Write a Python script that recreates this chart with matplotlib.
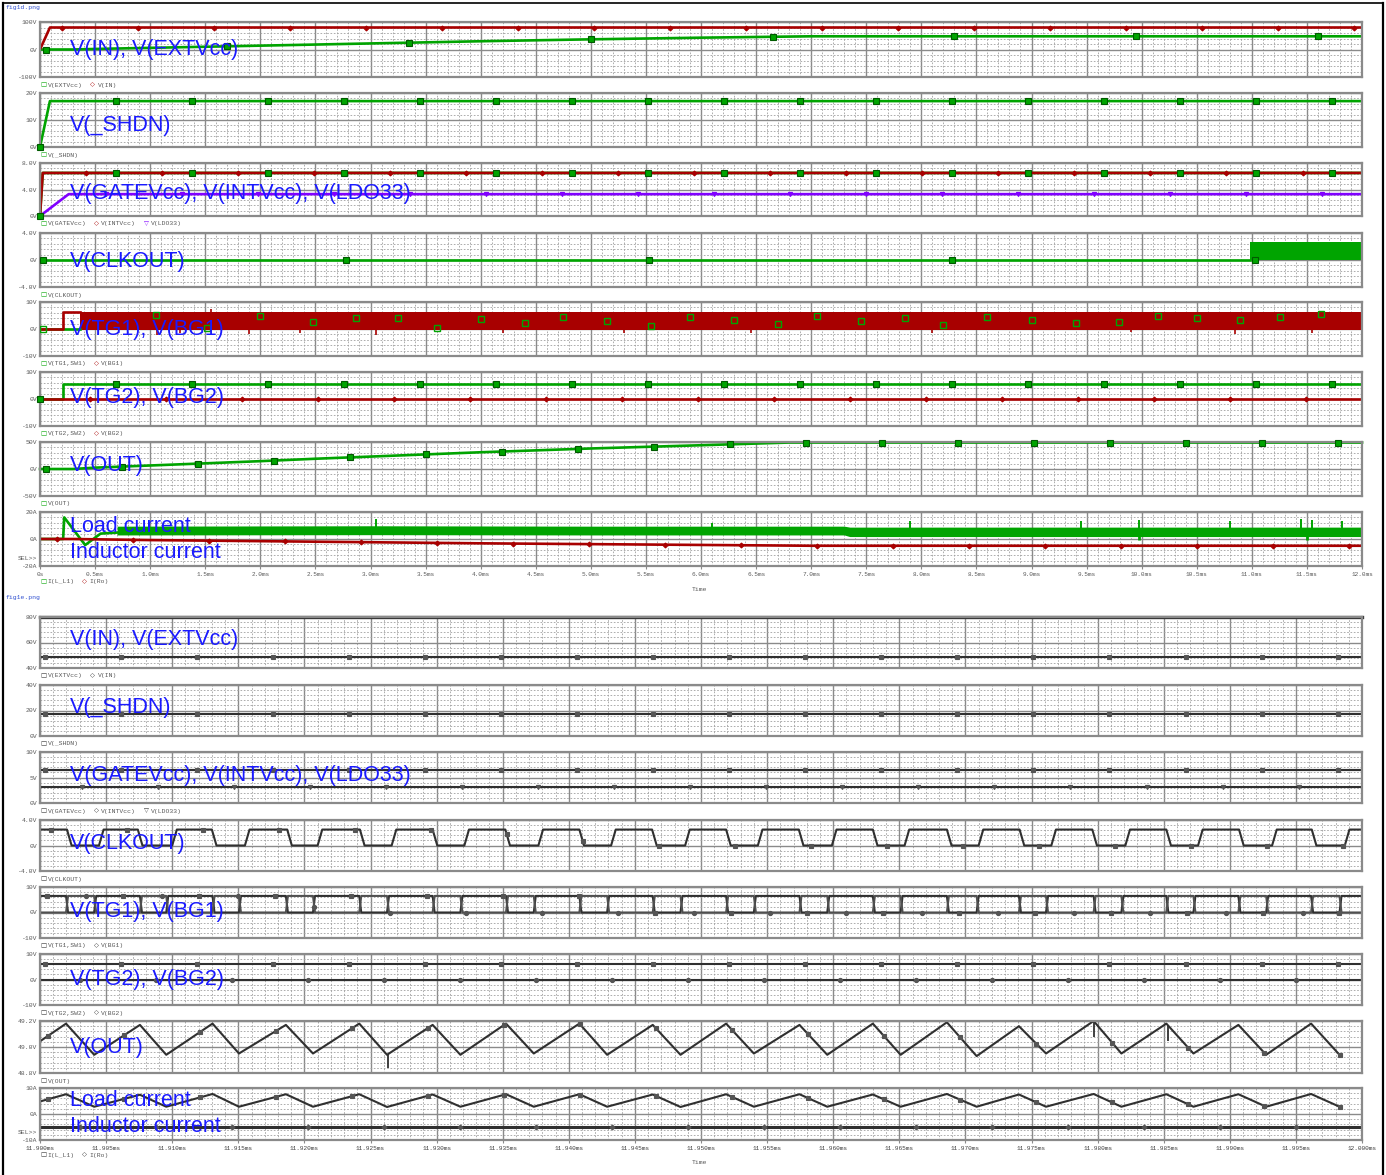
import numpy as np
import matplotlib
matplotlib.use("Agg")
import matplotlib.pyplot as plt
from matplotlib.lines import Line2D

plt.rcParams["font.family"] = ["Liberation Mono", "DejaVu Sans"]

W, H = 1386, 1175
LEFT, RIGHT = 40, 1362

GREEN = "#00a400"
GREEN_EDGE = "#005a00"
RED = "#a80000"
VIOLET = "#8000ff"
INK = "#303030"
BLUE = "#1a1aff"
TXT = "#5a5a5a"

# ---------------- fig1d: start-up, 0 .. 12 ms ----------------
top_xlabels = ["0s", "0.5ms", "1.0ms", "1.5ms", "2.0ms", "2.5ms", "3.0ms", "3.5ms",
               "4.0ms", "4.5ms", "5.0ms", "5.5ms", "6.0ms", "6.5ms", "7.0ms", "7.5ms",
               "8.0ms", "8.5ms", "9.0ms", "9.5ms", "10.0ms", "10.5ms", "11.0ms",
               "11.5ms", "12.0ms"]

vin_t = [0, 0.09, 12.0]
vin_v = [0, 80, 80]
vext_t = [0, 0.3, 0.5, 1.0, 1.5, 2.0, 2.5, 3.0, 3.5, 4.0, 5.0, 6.0, 7.0, 12.0]
vext_v = [0, 0, 2, 6, 10, 14, 18, 22, 26, 30, 37, 43, 48, 48]
shdn_t = [0, 0.09, 12.0]
shdn_v = [0, 17, 17]
gatevcc_t = [0, 0.025, 12.0]
gatevcc_v = [0, 6.5, 6.5]
intvcc_t = [0, 0.025, 12.0]
intvcc_v = [0, 6.5, 6.5]
ldo33_t = [0, 0.26, 12.0]
ldo33_v = [0, 3.3, 3.3]
clk_line_t = [0, 10.98]
clk_line_v = [0, 0]
clk_band_t = [10.98, 12.0]
clk_band_lo = [0, 0]
clk_band_hi = [2.7, 2.7]
bg1_start_t = [0, 0.21, 0.21, 0.36]
bg1_start_v = [0, 0, 6.3, 6.3]
bg1_band_t = [0.36, 12.0]
bg1_band_lo = [-0.5, -0.5]
bg1_band_hi = [6.3, 6.3]
bg1_spike_t = [1.06, 1.27, 1.55, 1.9, 2.36, 3.05, 4.2, 5.3, 6.45, 8.1, 9.9, 10.85, 11.55]
bg1_spike_v = [-2.2, -1.5, 7.5, -1.8, -1.6, -2.4, -1.5, -1.4, -1.6, -1.5, -1.2, -1.8, -1.6]
tg1_mark_t = [0.03, 1.05, 1.52, 2.0, 2.48, 2.87, 3.25, 3.6, 4.0, 4.4, 4.75, 5.15, 5.55,
              5.9, 6.3, 6.7, 7.05, 7.45, 7.85, 8.2, 8.6, 9.0, 9.4, 9.79, 10.15, 10.5,
              10.89, 11.26, 11.63]
tg1_mark_v = [0.0, 5.2, 0.4, 4.8, 2.7, 4.2, 4.0, 0.5, 3.6, 2.4, 4.6, 3.1, 1.2,
              4.4, 3.4, 2.0, 4.8, 3.0, 3.9, 1.6, 4.3, 3.5, 2.2, 2.5, 4.9, 4.0,
              3.3, 4.3, 5.7]
tg2_t = [0, 0.21, 0.21, 12.0]
tg2_v = [0, 0, 5.5, 5.5]
bg2_t = [0, 12.0]
bg2_v = [0, 0]
vout_t = [0, 0.3, 0.5, 1.0, 1.5, 2.0, 2.5, 3.0, 3.5, 4.0, 5.0, 6.0, 6.8, 12.0]
vout_v = [0, 0, 2.5, 6.5, 10.5, 14.5, 19, 23, 27, 31, 38, 44, 49, 49]
il_start_t = [0, 0.21, 0.22, 0.41, 0.55, 0.75]
il_start_v = [0, 0, 16, -4.5, 4, 5]
il_band_t = [0.7, 3.0, 5.0, 7.3, 7.35, 12.0]
il_band_hi = [9.5, 9.8, 9.5, 9.5, 8.8, 8.8]
il_band_lo = [3.0, 3.2, 3.0, 3.0, 1.8, 1.8]
il_spike_t = [3.05, 6.1, 7.9, 9.45, 9.98, 10.8, 11.45, 11.55, 11.82]
il_spike_v = [15, 12, 13, 13, 14, 13, 15, 14, 13]
il_dip_t = [9.98, 11.5]
il_dip_v = [-1.0, -1.0]
iro_t = [0, 0.3, 1, 2, 3, 4, 5, 6, 7, 12]
iro_v = [0, 0, -0.8, -1.6, -2.4, -3.2, -3.8, -4.4, -5, -5]

# ---------------- fig1e: steady state, 11.900 .. 12.000 ms (times in us after 11.900ms) ----
bot_xlabels = ["11.900ms", "11.905ms", "11.910ms", "11.915ms", "11.920ms", "11.925ms",
               "11.930ms", "11.935ms", "11.940ms", "11.945ms", "11.950ms", "11.955ms",
               "11.960ms", "11.965ms", "11.970ms", "11.975ms", "11.980ms", "11.985ms",
               "11.990ms", "11.995ms", "12.000ms"]

peak_us = [1.97, 7.56, 13.05, 18.6, 24.15, 29.7, 35.25, 40.8, 46.35, 51.9, 57.45, 63.0,
           68.6, 74.05, 79.7, 85.2, 90.65, 96.15]
valley_us = [-1.5, 4.1, 9.55, 15.05, 20.65, 26.25, 31.8, 37.35, 42.9, 48.45, 54.0, 59.55,
             65.1, 70.85, 76.1, 81.8, 87.25, 92.75, 98.3]
vout_peak = [49.18, 49.17, 49.18, 49.17, 49.18, 49.17, 49.18, 49.18, 49.17, 49.18, 49.17,
             49.18, 49.19, 49.16, 49.20, 49.18, 49.17, 49.18]
vout_valley = [48.94, 48.94, 48.94, 48.95, 48.95, 48.94, 48.94, 48.95, 48.94, 48.94, 48.95,
               48.94, 48.94, 48.93, 48.95, 48.95, 48.95, 48.94, 48.94]
il_peak = [7.6, 7.4, 7.7, 7.6, 7.6, 7.5, 7.6, 7.6, 7.5, 7.6, 7.6, 7.5, 7.7, 7.5, 7.7, 7.6,
           7.6, 7.7]
il_valley = [2.7, 2.8, 2.8, 2.8, 2.8, 2.7, 2.8, 2.8, 2.8, 2.7, 2.8, 2.8, 2.8, 2.8, 2.8, 2.8,
             2.8, 2.8, 2.8]
vout_spike_us = [26.3, 79.7, 85.3]
vout_spike_v = [48.84, 49.08, 49.05]
clk_rise_us = [-1.0, 4.46, 10.0, 15.5, 21.0, 26.6, 32.1, 37.7, 43.2, 48.8, 54.3, 59.9, 65.4,
               71.0, 76.5, 82.1, 87.6, 93.2, 98.7]
clk_fall_us = [2.04, 7.4, 13.0, 18.7, 24.2, 29.7, 35.2, 40.8, 46.3, 51.9, 57.4, 63.0, 68.6,
               74.1, 79.6, 85.2, 90.7, 96.2]
clk_hi = 2.5
gate1_hi = 6.5
vin_ss = 80
vext_ss = 49.0
shdn_ss = 17.2
gatevcc_ss = 6.5
intvcc_ss = 6.5
ldo33_ss = 3.2
tg2_ss = 6.2
bg2_ss = 0.0
iro_ss = -5.0

fig = plt.figure(figsize=(W / 100, H / 100), dpi=100)
fig.patch.set_facecolor("white")


def px(x, y):
    return x / W, 1 - y / H


def panel(top, bottom, ylim, ylabels, xlim, xmajor, xminor):
    ax = fig.add_axes([LEFT / W, 1 - bottom / H, (RIGHT - LEFT) / W, (bottom - top) / H])
    ax.set_xlim(*xlim)
    ax.set_ylim(*ylim)
    lo, hi = ylim
    ax.set_yticks([lo, (lo + hi) / 2, hi], ylabels)
    ax.set_yticks(np.linspace(lo, hi, 11), minor=True)
    ax.set_xticks(xmajor)
    ax.set_xticks(xminor, minor=True)
    ax.tick_params(which="both", length=0, labelsize=4.6, labelcolor=TXT, pad=2)
    ax.tick_params(axis="x", labelbottom=False)
    ax.grid(which="major", color="#8a8a8a", lw=1.0, ls="-")
    ax.grid(which="minor", color="#a0a0a0", lw=0.6, ls=(0, (2, 2)))
    for s in ax.spines.values():
        s.set_color("#8a8a8a")
        s.set_linewidth(1.6)
    ax.set_axisbelow(True)
    return ax


def legend(x, y, entries, sym_color_default=None):
    cw = 0.6 * 4.6 * 100 / 72
    for sym, color, name in entries:
        fig.text(*px(x, y), sym, color=color, fontsize=4.6, va="center", ha="left",
                 family=["DejaVu Sans"])
        x += 2 * cw
        fig.text(*px(x, y), name, color=TXT, fontsize=4.6, va="center", ha="left")
        x += (len(name) + 2) * cw


def marks(ax, t, v, start, step, marker, color, size=4.0, filled=True, edge=None):
    hi = ax.get_xlim()[1]
    mt = np.arange(start, hi, step)
    mv = np.interp(mt, t, v)
    ax.plot(mt, mv, ls="none", marker=marker, ms=size,
            mfc=color if filled else "none", mec=edge or color, mew=0.8, zorder=6,
            clip_on=False)


def pulse_train(rise, fall, lo, hi, edge=0.15):
    edges = sorted([(t, 1) for t in rise] + [(t, 0) for t in fall])
    state = 0 if edges[0][1] == 1 else 1
    ts = [edges[0][0] - 5]
    vs = [hi if state else lo]
    for t, s in edges:
        ts += [t, t + edge]
        vs += [hi if state else lo, hi if s else lo]
        state = s
    ts.append(edges[-1][0] + 10)
    vs.append(hi if state else lo)
    return np.array(ts), np.array(vs)


def blue(x, y, s):
    fig.text(*px(x, y), s, color=BLUE, fontsize=15.5, va="center", ha="left",
             family=["Liberation Sans", "DejaVu Sans"], zorder=20)


# frame and file names
fig.add_artist(Line2D([3 / W, 3 / W], [0, 1 - 3 / H], color="black", lw=1.6))
fig.add_artist(Line2D([3 / W, 1383 / W], [1 - 3 / H, 1 - 3 / H], color="black", lw=1.2))
fig.add_artist(Line2D([1383 / W, 1383 / W], [0, 1 - 3 / H], color="black", lw=1.6))
fig.text(*px(6, 8), "fig1d.png", color="#3050d0", fontsize=4.6, va="center")
fig.text(*px(6, 598), "fig1e.png", color="#3050d0", fontsize=4.6, va="center")

top_panels = [(22, 77), (93, 147), (163, 216), (233, 287), (302, 356), (372, 426),
              (442, 496), (512, 566)]
bot_panels = [(617, 668), (685, 736), (752, 803), (820, 871), (887, 938), (954, 1005),
              (1021, 1073), (1088, 1140)]

TX = (0, 12.0)
t_major = np.arange(0, 12.001, 0.5)
t_minor = np.arange(0, 12.001, 0.1)
BX = (0, 100.0)
b_major = np.arange(0, 100.001, 5)
b_minor = np.arange(0, 100.001, 1)
LW = 1.9

# ---- top chart ----
ax = panel(*top_panels[0], (-100, 100), ["-100V", "0V", "100V"], TX, t_major, t_minor)
ax.plot(vext_t, vext_v, color=GREEN, lw=LW)
ax.plot(vin_t, vin_v, color=RED, lw=LW)
marks(ax, vext_t, vext_v, 0.05, 1.65, "s", GREEN, edge=GREEN_EDGE)
marks(ax, vin_t, vin_v, 0.2, 0.69, "D", RED, size=2.5)

ax = panel(*top_panels[1], (0, 20), ["0V", "10V", "20V"], TX, t_major, t_minor)
ax.plot(shdn_t, shdn_v, color=GREEN, lw=LW)
marks(ax, shdn_t, shdn_v, 0.0, 0.69, "s", GREEN, edge=GREEN_EDGE)

ax = panel(*top_panels[2], (0, 8), ["0V", "4.0V", "8.0V"], TX, t_major, t_minor)
ax.plot(gatevcc_t, gatevcc_v, color=GREEN, lw=LW)
ax.plot(intvcc_t, intvcc_v, color=RED, lw=LW)
ax.plot(ldo33_t, ldo33_v, color=VIOLET, lw=LW)
marks(ax, gatevcc_t, gatevcc_v, 0.0, 0.69, "s", GREEN, edge=GREEN_EDGE)
marks(ax, intvcc_t, intvcc_v, 0.42, 0.69, "D", RED, size=2.5)
marks(ax, ldo33_t, ldo33_v, 0.6, 0.69, "v", VIOLET, size=3)

ax = panel(*top_panels[3], (-4, 4), ["-4.0V", "0V", "4.0V"], TX, t_major, t_minor)
ax.plot(clk_line_t, clk_line_v, color=GREEN, lw=LW)
ax.fill_between(clk_band_t, clk_band_lo, clk_band_hi, color=GREEN, lw=0)
marks(ax, clk_line_t, clk_line_v, 0.03, 2.75, "s", GREEN, edge=GREEN_EDGE)

ax = panel(*top_panels[4], (-10, 10), ["-10V", "0V", "10V"], TX, t_major, t_minor)
ax.plot([0, 0.36], [0, 0], color=GREEN, lw=LW)
ax.plot(bg1_start_t, bg1_start_v, color=RED, lw=LW)
ax.fill_between(bg1_band_t, bg1_band_lo, bg1_band_hi, color=RED, lw=0)
ax.vlines(bg1_spike_t, 0, bg1_spike_v, color=RED, lw=1.2)
ax.plot(tg1_mark_t, tg1_mark_v, ls="none", marker="s", ms=4, mfc="none", mec=GREEN,
        mew=1.0, zorder=6)

ax = panel(*top_panels[5], (-10, 10), ["-10V", "0V", "10V"], TX, t_major, t_minor)
ax.plot(tg2_t, tg2_v, color=GREEN, lw=LW)
ax.plot(bg2_t, bg2_v, color=RED, lw=LW)
marks(ax, tg2_t, tg2_v, 0.0, 0.69, "s", GREEN, edge=GREEN_EDGE)
marks(ax, bg2_t, bg2_v, 0.45, 0.69, "D", RED, size=2.5)

ax = panel(*top_panels[6], (-50, 50), ["-50V", "0V", "50V"], TX, t_major, t_minor)
ax.plot(vout_t, vout_v, color=GREEN, lw=LW, clip_on=False)
marks(ax, vout_t, vout_v, 0.05, 0.69, "s", GREEN, edge=GREEN_EDGE)

ax = panel(*top_panels[7], (-20, 20), ["-20A", "0A", "20A"], TX, t_major, t_minor)
ax.plot(il_start_t, il_start_v, color=GREEN, lw=LW)
ax.fill_between(il_band_t, il_band_lo, il_band_hi, color=GREEN, lw=0)
ax.vlines(il_spike_t, 5, il_spike_v, color=GREEN, lw=1.4)
ax.vlines(il_dip_t, il_dip_v, 5, color=GREEN, lw=2.0)
ax.plot(iro_t, iro_v, color=RED, lw=LW)
marks(ax, iro_t, iro_v, 0.15, 0.69, "D", RED, size=2.5)
ax.set_xticks(t_major, top_xlabels)
ax.tick_params(axis="x", labelbottom=True, length=2, color="#8a8a8a", labelsize=4.4)

for (tp, bt), entries in zip(top_panels, [
        [("□", GREEN, "V(EXTVcc)"), ("◇", RED, "V(IN)")],
        [("□", GREEN, "V(_SHDN)")],
        [("□", GREEN, "V(GATEVcc)"), ("◇", RED, "V(INTVcc)"), ("▽", VIOLET, "V(LDO33)")],
        [("□", GREEN, "V(CLKOUT)")],
        [("□", GREEN, "V(TG1,SW1)"), ("◇", RED, "V(BG1)")],
        [("□", GREEN, "V(TG2,SW2)"), ("◇", RED, "V(BG2)")],
        [("□", GREEN, "V(OUT)")],
        [("□", GREEN, "I(L_L1)"), ("◇", RED, "I(Ro)")]]):
    legend(40, bt + (16 if bt == 566 else 8), entries)
fig.text(*px(18, 559), "SEL>>", color=TXT, fontsize=4.6, va="center")
fig.text(*px(700, 590), "Time", color=TXT, fontsize=4.6, va="center", ha="center")

for y, s in zip([49, 125, 193, 261, 329, 397, 466, 527, 552],
                ["V(IN), V(EXTVcc)", "V(_SHDN)", "V(GATEVcc), V(INTVcc), V(LDO33)",
                 "V(CLKOUT)", "V(TG1), V(BG1)", "V(TG2), V(BG2)", "V(OUT)",
                 "Load current", "Inductor current"]):
    blue(70, y, s)

# ---- bottom chart ----
BLW = 1.5
ripple_t = np.sort(np.concatenate([peak_us, valley_us]))
order = np.argsort(np.concatenate([peak_us, valley_us]))
vout_ss = np.concatenate([vout_peak, vout_valley])[order]
il_ss = np.concatenate([il_peak, il_valley])[order]

ax = panel(*bot_panels[0], (40, 80), ["40V", "60V", "80V"], BX, b_major, b_minor)
ax.plot(BX, [vext_ss, vext_ss], color=INK, lw=BLW)
ax.plot(BX, [vin_ss, vin_ss], color=INK, lw=2.4, clip_on=False)
marks(ax, BX, [vext_ss, vext_ss], 0.4, 5.75, "s", "#555", size=3.5)

ax = panel(*bot_panels[1], (0, 40), ["0V", "20V", "40V"], BX, b_major, b_minor)
ax.plot(BX, [shdn_ss, shdn_ss], color=INK, lw=BLW)
marks(ax, BX, [shdn_ss, shdn_ss], 0.4, 5.75, "s", "#555", size=3.5)

ax = panel(*bot_panels[2], (0, 10), ["0V", "5V", "10V"], BX, b_major, b_minor)
ax.plot(BX, [gatevcc_ss, gatevcc_ss], color=INK, lw=BLW)
ax.plot(BX, [intvcc_ss, intvcc_ss], color=INK, lw=BLW)
ax.plot(BX, [ldo33_ss, ldo33_ss], color=INK, lw=BLW)
marks(ax, BX, [gatevcc_ss, gatevcc_ss], 0.4, 5.75, "s", "#555", size=3.5)
marks(ax, BX, [ldo33_ss, ldo33_ss], 3.2, 5.75, "v", "#555", size=3.0)

ax = panel(*bot_panels[3], (-4, 4), ["-4.0V", "0V", "4.0V"], BX, b_major, b_minor)
ct, cv = pulse_train(clk_rise_us, clk_fall_us, 0, clk_hi, edge=0.35)
ax.plot(ct, cv, color=INK, lw=BLW)
marks(ax, ct, cv, 0.8, 5.75, "s", "#555", size=3.5)

ax = panel(*bot_panels[4], (-10, 10), ["-10V", "0V", "10V"], BX, b_major, b_minor)
t1, v1 = pulse_train(valley_us, peak_us, 0, gate1_hi)
t2, v2 = pulse_train(peak_us, valley_us[1:], 0, gate1_hi)
ax.plot(t1, v1, color=INK, lw=BLW)
ax.plot(t2, v2, color="#505050", lw=BLW)
marks(ax, t1, v1, 0.5, 5.75, "s", "#555", size=3.5)
marks(ax, t2, v2, 3.5, 5.75, "o", "#555", size=3.0)

ax = panel(*bot_panels[5], (-10, 10), ["-10V", "0V", "10V"], BX, b_major, b_minor)
ax.plot(BX, [tg2_ss, tg2_ss], color=INK, lw=BLW)
ax.plot(BX, [bg2_ss, bg2_ss], color=INK, lw=BLW)
marks(ax, BX, [tg2_ss, tg2_ss], 0.4, 5.75, "s", "#555", size=3.5)
marks(ax, BX, [bg2_ss, bg2_ss], 3.0, 5.75, "o", "#555", size=3.0)

ax = panel(*bot_panels[6], (48.8, 49.2), ["48.8V", "49.0V", "49.2V"], BX, b_major, b_minor)
ax.plot(ripple_t, vout_ss, color=INK, lw=BLW)
ax.vlines(vout_spike_us, vout_spike_v, np.interp(vout_spike_us, ripple_t, vout_ss),
          color=INK, lw=1.3)
marks(ax, ripple_t, vout_ss, 0.6, 5.75, "s", "#555", size=3.5)

ax = panel(*bot_panels[7], (-10, 10), ["-10A", "0A", "10A"], BX, b_major, b_minor)
ax.plot(ripple_t, il_ss, color=INK, lw=BLW)
ax.plot(BX, [iro_ss, iro_ss], color=INK, lw=2.2)
marks(ax, ripple_t, il_ss, 0.6, 5.75, "s", "#555", size=3.5)
marks(ax, BX, [iro_ss, iro_ss], 3.0, 5.75, "D", "#555", size=2.5)
ax.set_xticks(b_major, bot_xlabels)
ax.tick_params(axis="x", labelbottom=True, length=2, color="#8a8a8a", labelsize=4.4,
               labelcolor="#404040")

for (tp, bt), entries in zip(bot_panels, [
        [("□", INK, "V(EXTVcc)"), ("◇", INK, "V(IN)")],
        [("□", INK, "V(_SHDN)")],
        [("□", INK, "V(GATEVcc)"), ("◇", INK, "V(INTVcc)"), ("▽", INK, "V(LDO33)")],
        [("□", INK, "V(CLKOUT)")],
        [("□", INK, "V(TG1,SW1)"), ("◇", INK, "V(BG1)")],
        [("□", INK, "V(TG2,SW2)"), ("◇", INK, "V(BG2)")],
        [("□", INK, "V(OUT)")],
        [("□", INK, "I(L_L1)"), ("◇", INK, "I(Ro)")]]):
    legend(40, bt + (15 if bt == 1140 else 8), entries)
fig.text(*px(18, 1133), "SEL>>", color=TXT, fontsize=4.6, va="center")
fig.text(*px(700, 1163), "Time", color=TXT, fontsize=4.6, va="center", ha="center")

for y, s in zip([639, 707, 775, 843, 911, 979, 1047, 1101, 1126],
                ["V(IN), V(EXTVcc)", "V(_SHDN)", "V(GATEVcc), V(INTVcc), V(LDO33)",
                 "V(CLKOUT)", "V(TG1), V(BG1)", "V(TG2), V(BG2)", "V(OUT)",
                 "Load current", "Inductor current"]):
    blue(70, y, s)

fig.savefig("out.png", dpi=100, facecolor="white")
